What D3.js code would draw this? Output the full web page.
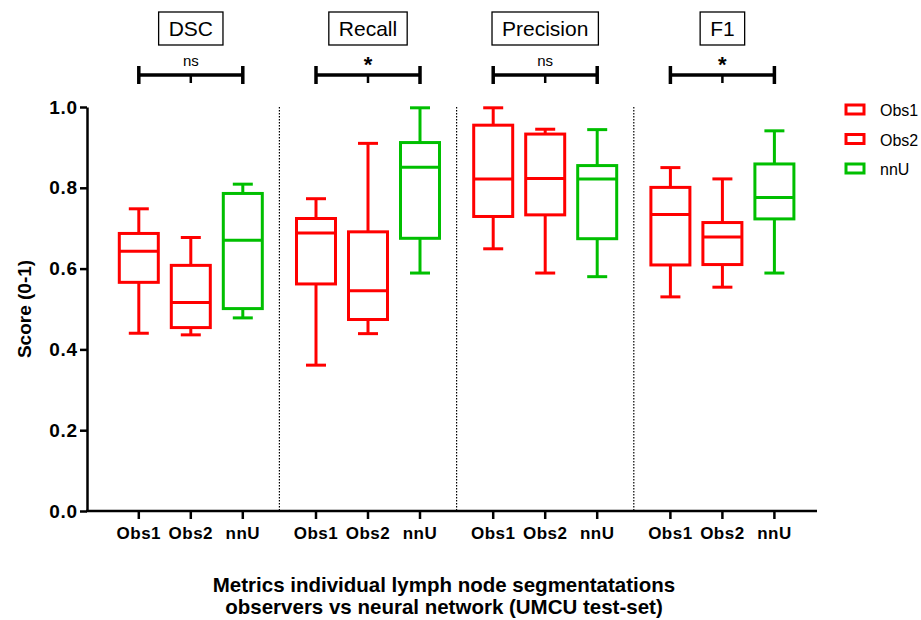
<!DOCTYPE html>
<html lang="en">
<head>
    <meta charset="UTF-8">
    <title>Lymph node segmentation metrics</title>
    <script src="https://d3js.org/d3.v7.min.js"></script>
    <style>
        body { margin: 0; background: #fff; }
        text { font-family: Arial, "Liberation Sans", sans-serif; }
        .axis path, .axis line { stroke: #000; stroke-width: 2.5px; }
        .axis text { font-size: 19px; font-weight: bold; fill: #000; letter-spacing: 0.8px; }
    </style>
</head>
<body>
<svg width="921" height="620"></svg>

<script>
    // metric groups and observers
    const metrics = ["DSC", "Recall", "Precision", "F1"];
    const series = ["Obs1", "Obs2", "nnU"];
    const significance = ["ns", "*", "ns", "*"];
    const yTicks = [0, 0.2, 0.4, 0.6, 0.8, 1.0];

    // [min, q1, median, q3, max] per series, one row per metric
    const obs1Stats = [
        [0.440, 0.566, 0.643, 0.687, 0.748],
        [0.361, 0.562, 0.688, 0.724, 0.773],
        [0.649, 0.729, 0.822, 0.955, 0.998],
        [0.530, 0.609, 0.734, 0.801, 0.850]
    ];
    const obs2Stats = [
        [0.436, 0.454, 0.516, 0.608, 0.677],
        [0.439, 0.474, 0.545, 0.691, 0.910],
        [0.589, 0.733, 0.823, 0.933, 0.945],
        [0.554, 0.610, 0.678, 0.714, 0.822]
    ];
    const nnuStats = [
        [0.478, 0.501, 0.670, 0.786, 0.809],
        [0.589, 0.675, 0.851, 0.912, 0.998],
        [0.580, 0.674, 0.822, 0.855, 0.944],
        [0.589, 0.723, 0.776, 0.859, 0.941]
    ];

    const colors = { Obs1: "#ff0000", Obs2: "#ff0000", nnU: "#00bf00" };
    const statsBySeries = { Obs1: obs1Stats, Obs2: obs2Stats, nnU: nnuStats };

    const svg = d3.select("svg");
    const axisX = 87;
    const yTop = 107, yBottom = 511;

    const y = d3.scaleLinear().domain([0, 1]).range([yBottom, yTop]);

    // one band per metric, three sub-bands inside
    const xGroup = d3.scaleBand().domain(metrics).range([102.2, 811]).padding(0);
    const bw = xGroup.bandwidth();
    const xInner = d3.scaleBand().domain(series).range([bw / 2 - 78, bw / 2 + 78]);
    const cx = (m, s) => xGroup(m) + xInner(s) + xInner.bandwidth() / 2;

    const boxW = 39, capW = 20;

    // dotted separators between metric groups
    svg.append("g")
        .selectAll("line")
        .data(metrics.slice(1))
        .enter()
        .append("line")
        .attr("x1", d => xGroup(d))
        .attr("x2", d => xGroup(d))
        .attr("y1", yTop)
        .attr("y2", yBottom)
        .attr("stroke", "#000")
        .attr("stroke-width", 1.2)
        .attr("stroke-dasharray", "1.5,1.5");

    // y axis
    svg.append("g")
        .attr("class", "axis")
        .attr("transform", `translate(${axisX},0)`)
        .call(d3.axisLeft(y).tickValues(yTicks).tickFormat(d3.format(".1f")).tickSize(7).tickSizeOuter(0).tickPadding(2));

    svg.append("text")
        .attr("transform", `translate(31,${(yTop + yBottom) / 2}) rotate(-90)`)
        .attr("text-anchor", "middle")
        .style("font-size", "19px")
        .style("font-weight", "bold")
        .text("Score (0-1)");

    // x axis baseline with ticks under each box
    svg.append("line")
        .attr("x1", axisX - 1).attr("x2", 817)
        .attr("y1", yBottom).attr("y2", yBottom)
        .attr("stroke", "#000").attr("stroke-width", 2.5);

    const cells = [];
    metrics.forEach((m, i) => {
        series.forEach(s => {
            const st = statsBySeries[s][i];
            cells.push({ metric: m, series: s, min: st[0], q1: st[1], med: st[2], q3: st[3], max: st[4] });
        });
    });

    const tickG = svg.append("g");
    tickG.selectAll("line")
        .data(cells)
        .enter()
        .append("line")
        .attr("x1", d => cx(d.metric, d.series))
        .attr("x2", d => cx(d.metric, d.series))
        .attr("y1", yBottom)
        .attr("y2", yBottom + 8)
        .attr("stroke", "#000")
        .attr("stroke-width", 2.5);

    tickG.selectAll("text")
        .data(cells)
        .enter()
        .append("text")
        .attr("x", d => cx(d.metric, d.series))
        .attr("y", yBottom + 28)
        .attr("text-anchor", "middle")
        .style("font-size", "17px")
        .style("font-weight", "bold")
        .style("letter-spacing", "0.5px")
        .text(d => d.series);

    // boxes
    const box = svg.append("g")
        .selectAll("g")
        .data(cells)
        .enter()
        .append("g")
        .attr("stroke", d => colors[d.series])
        .attr("stroke-width", 3)
        .attr("fill", "none");

    box.append("line")
        .attr("x1", d => cx(d.metric, d.series)).attr("x2", d => cx(d.metric, d.series))
        .attr("y1", d => y(d.max)).attr("y2", d => y(d.q3));
    box.append("line")
        .attr("x1", d => cx(d.metric, d.series)).attr("x2", d => cx(d.metric, d.series))
        .attr("y1", d => y(d.q1)).attr("y2", d => y(d.min));
    box.append("line")
        .attr("x1", d => cx(d.metric, d.series) - capW / 2).attr("x2", d => cx(d.metric, d.series) + capW / 2)
        .attr("y1", d => y(d.max)).attr("y2", d => y(d.max));
    box.append("line")
        .attr("x1", d => cx(d.metric, d.series) - capW / 2).attr("x2", d => cx(d.metric, d.series) + capW / 2)
        .attr("y1", d => y(d.min)).attr("y2", d => y(d.min));
    box.append("rect")
        .attr("x", d => cx(d.metric, d.series) - boxW / 2)
        .attr("width", boxW)
        .attr("y", d => y(d.q3))
        .attr("height", d => y(d.q1) - y(d.q3))
        .attr("fill", "#fff");
    box.append("line")
        .attr("x1", d => cx(d.metric, d.series) - boxW / 2).attr("x2", d => cx(d.metric, d.series) + boxW / 2)
        .attr("y1", d => y(d.med)).attr("y2", d => y(d.med));

    // metric title boxes
    metrics.forEach(m => {
        const c = cx(m, "Obs2");
        const g = svg.append("g");
        const t = g.append("text")
            .attr("x", c)
            .attr("y", 36)
            .attr("text-anchor", "middle")
            .style("font-size", "21px")
            .text(m);
        const w = t.node().getBBox().width + 20;
        g.insert("rect", "text")
            .attr("x", c - w / 2)
            .attr("y", 12)
            .attr("width", w)
            .attr("height", 33)
            .attr("fill", "#fff")
            .attr("stroke", "#000")
            .attr("stroke-width", 1.3);
    });

    // significance brackets
    metrics.forEach((m, i) => {
        const x1 = cx(m, "Obs1"), x2 = cx(m, "nnU"), xm = cx(m, "Obs2");
        const g = svg.append("g").attr("stroke", "#000").attr("stroke-width", 3.5);
        g.append("line").attr("x1", x1).attr("x2", x2).attr("y1", 75).attr("y2", 75);
        g.append("line").attr("x1", x1).attr("x2", x1).attr("y1", 66).attr("y2", 84);
        g.append("line").attr("x1", x2).attr("x2", x2).attr("y1", 66).attr("y2", 84);
        g.append("line").attr("x1", xm).attr("x2", xm).attr("y1", 75).attr("y2", 83).attr("stroke-width", 2.5);
        const isStar = significance[i] === "*";
        svg.append("text")
            .attr("x", xm)
            .attr("y", isStar ? 72 : 66)
            .attr("text-anchor", "middle")
            .style("font-size", isStar ? "22px" : "15px")
            .style("font-weight", isStar ? "bold" : "normal")
            .text(significance[i]);
    });

    // legend
    const legend = svg.append("g")
        .selectAll("g")
        .data(series)
        .enter()
        .append("g")
        .attr("transform", (d, i) => `translate(846,${110 + i * 29.5})`);
    legend.append("rect")
        .attr("x", 0).attr("y", -5)
        .attr("width", 18).attr("height", 9)
        .attr("fill", "#fff")
        .attr("stroke", d => colors[d])
        .attr("stroke-width", 3);
    legend.append("text")
        .attr("x", 34).attr("y", 6)
        .style("font-size", "16px")
        .text(d => d);

    // x axis title
    const title = svg.append("text")
        .attr("text-anchor", "middle")
        .style("font-size", "20.5px")
        .style("font-weight", "bold");
    title.append("tspan").attr("x", 444).attr("y", 592).text("Metrics individual lymph node segmentatations");
    title.append("tspan").attr("x", 444).attr("y", 614).text("observers vs neural network (UMCU test-set)");
</script>
</body>
</html>
